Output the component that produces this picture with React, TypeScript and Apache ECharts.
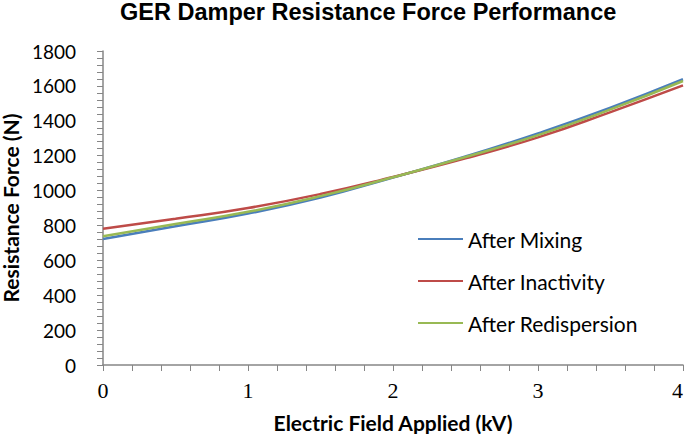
import React, { useEffect, useRef } from "react";
import * as echarts from "echarts";

const xValues = [0, 0.5, 1, 1.5, 2, 2.5, 3, 3.5, 4];
const afterMixing = [722, 795, 868, 960, 1075, 1195, 1328, 1475, 1638];
const afterInactivity = [781, 838, 900, 980, 1078, 1185, 1305, 1450, 1603];
const afterRedispersion = [738, 808, 878, 968, 1076, 1192, 1318, 1465, 1628];
const seriesNames = ["After Mixing", "After Inactivity", "After Redispersion"];
const seriesColors = ["#4A7EBB", "#BE4B48", "#98B954"];
const yTicks = { min: 0, max: 1800, interval: 200 };
const xTicks = { min: 0, max: 4, interval: 1 };

export default function App() {
  const ref = useRef<HTMLDivElement>(null);
  useEffect(() => {
    if (!ref.current) return;
    const chart = echarts.init(ref.current, null, { renderer: "svg" });
    const sets = [afterMixing, afterInactivity, afterRedispersion];
    const axisColor = "#868686";
    chart.setOption({
      animation: false,
      backgroundColor: "#ffffff",
      title: {
        text: "GER Damper Resistance Force Performance",
        left: 120,
        top: 0,
        padding: 0,
        textStyle: { fontFamily: "Liberation Sans", fontWeight: "bold", fontSize: 23.5, color: "#000" },
      },
      legend: {
        orient: "vertical",
        left: 413,
        top: 223,
        icon: "rect",
        itemWidth: 45,
        itemHeight: 2,
        itemGap: 20,
        data: seriesNames,
        textStyle: { fontFamily: "Lato", fontSize: 21, color: "#000", lineHeight: 22 },
      },
      grid: { left: 103, right: 3, top: 51, bottom: 69, containLabel: false, outerBoundsMode: "none" },
      xAxis: {
        type: "value",
        min: xTicks.min,
        max: xTicks.max,
        interval: xTicks.interval,
        name: "Electric Field Applied (kV)",
        nameLocation: "middle",
        nameGap: 47,
        nameTextStyle: { fontFamily: "Lato", fontWeight: "bold", fontSize: 21, lineHeight: 20, color: "#000" },
        axisLine: { show: true, lineStyle: { color: axisColor, width: 1.5 } },
        axisTick: { show: true, length: 6, lineStyle: { color: axisColor } },
        minorTick: { show: true, splitNumber: 5, length: 6, lineStyle: { color: axisColor } },
        splitLine: { show: false },
        axisLabel: {
          fontFamily: "Liberation Serif",
          fontSize: 22,
          color: "#000",
          margin: 14,
          alignMaxLabel: "right",
        },
      },
      yAxis: {
        type: "value",
        min: yTicks.min,
        max: yTicks.max,
        interval: yTicks.interval,
        name: "Resistance Force (N)",
        nameLocation: "middle",
        nameGap: 75,
        nameTextStyle: { fontFamily: "Lato", fontWeight: "bold", fontSize: 21, lineHeight: 20, color: "#000" },
        axisLine: { show: true, lineStyle: { color: axisColor, width: 1.5 } },
        axisTick: { show: true, length: 6, lineStyle: { color: axisColor } },
        minorTick: { show: true, splitNumber: 5, length: 6, lineStyle: { color: axisColor } },
        splitLine: { show: false },
        axisLabel: {
          fontFamily: "Lato",
          fontSize: 19,
          color: "#000",
          margin: 27,
          formatter: (v: number) => String(v),
        },
      },
      series: sets.map((vals, i) => ({
        name: seriesNames[i],
        type: "line",
        smooth: true,
        symbol: "none",
        showSymbol: false,
        color: seriesColors[i],
        lineStyle: { width: 2.5, color: seriesColors[i] },
        data: xValues.map((x, j) => [x, vals[j]]),
      })),
    });
    return () => chart.dispose();
  }, []);
  return (
    <div
      ref={ref}
      style={{ position: "absolute", left: 0, top: 0, width: 686, height: 434 }}
    />
  );
}
